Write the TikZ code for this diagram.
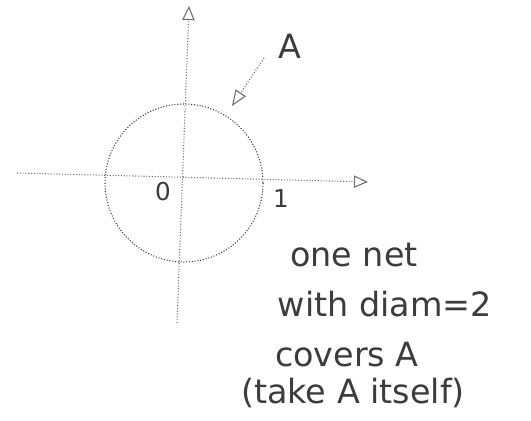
\documentclass[tikz,border=0pt]{standalone}
\usepackage{fontspec}
\newfontfamily\handfont{DejaVu Sans}
\usepackage{tikz}
\usetikzlibrary{positioning,arrows.meta}
\definecolor{skGray}{RGB}{110,110,110}
\definecolor{skInk}{RGB}{60,60,60}

\begin{document}
\begin{tikzpicture}[x=0.02cm, y=-0.02cm]
  \useasboundingbox (0,0) rectangle (531,421);
  \tikzset{
    axis/.style={skGray, densely dotted, semithick, -{Triangle[open,length=8pt,width=7pt]}},
    pointer/.style={skGray, densely dotted, semithick, -{Triangle[open,length=9pt,width=7pt]}},
    hand/.style={skInk, font=\handfont\fontsize{19}{23}\selectfont, inner sep=1pt},
    handsmall/.style={skInk, font=\handfont\fontsize{14}{16}\selectfont, inner sep=1pt},
  }

  % Axes
  \coordinate (xL) at (17,173);
  \coordinate (xR) at (368,182);
  \coordinate (yB) at (177,323);
  \coordinate (yT) at (189,6);
  \draw[axis] (xL) -- (xR);
  \draw[axis] (yB) -- (yT);

  % The set A: unit disc
  \coordinate (O) at (184,183);
  \draw[skInk, semithick, densely dotted] (O) circle (79);
  \node[handsmall] (zero) at (163,192) {0};
  \node[handsmall] (one) at (281,199) {1};

  % Label A with arrow
  \node[hand] (A) at (290,46) {A};
  \coordinate (Atail) at (264,58);
  \coordinate (Atip) at (232,106);
  \draw[pointer] (Atail) -- (Atip);

  % Annotation
  \node[hand] (t1) at (354,255) {one net};
  \node[hand] (t2) at (385,304) {with diam=2};
  \node[hand] (t3) at (347,355) {covers A};
  \node[hand] (t4) at (353,393) {(take A itself)};
\end{tikzpicture}
\end{document}
